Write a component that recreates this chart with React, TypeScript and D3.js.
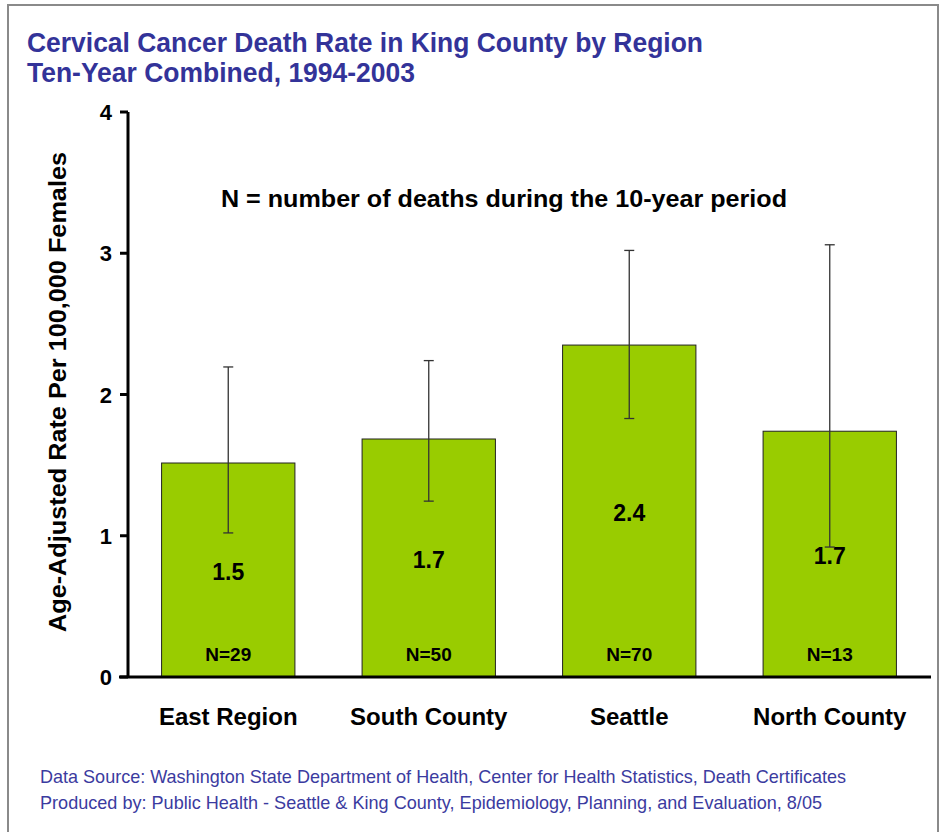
import React from "react";
import * as d3 from "d3";

const categories = ["East Region", "South County", "Seattle", "North County"];
const rates = [1.515, 1.685, 2.35, 1.74];
const rateLabels = ["1.5", "1.7", "2.4", "1.7"];
const ciLow = [1.02, 1.245, 1.83, 0.92];
const ciHigh = [2.195, 2.24, 3.02, 3.06];
const deaths = [29, 50, 70, 13];
const yTicks = [0, 1, 2, 3, 4];

const W = 939;
const H = 832;
const left = 128;
const right = 930;
const top = 112;
const bottom = 677;

export default function App() {
  const x = d3.scaleBand<string>().domain(categories).range([left, right]).padding(0);
  const y = d3.scaleLinear().domain([0, 4]).range([bottom, top]);
  const barW = x.bandwidth() * 0.665;
  const navy = "#333399";
  const sans = "'Liberation Sans', Arial, sans-serif";
  return (
    <svg width={W} height={H} style={{ position: "absolute", left: 0, top: 0, background: "#fff" }}>
      <rect x={8} y={5} width={930} height={H + 10} fill="#fff" stroke="#8a8a8a" strokeWidth={2} />
      <text x={27} y={52} fontFamily={sans} fontWeight="bold" fontSize={28} fill={navy} textLength={676} lengthAdjust="spacingAndGlyphs">
        Cervical Cancer Death Rate in King County by Region
      </text>
      <text x={27} y={82} fontFamily={sans} fontWeight="bold" fontSize={28} fill={navy} textLength={388} lengthAdjust="spacingAndGlyphs">
        Ten-Year Combined, 1994-2003
      </text>

      <text
        transform={`translate(66,392) rotate(-90)`}
        textAnchor="middle"
        fontFamily={sans}
        fontWeight="bold"
        fontSize={24}
        fill="#000"
        textLength={480}
        lengthAdjust="spacingAndGlyphs"
      >
        Age-Adjusted Rate Per 100,000 Females
      </text>

      <text x={504} y={207} textAnchor="middle" fontFamily={sans} fontWeight="bold" fontSize={24} fill="#000" textLength={566} lengthAdjust="spacingAndGlyphs">
        N = number of deaths during the 10-year period
      </text>

      {categories.map((c, i) => {
        const cx = (x(c) as number) + x.bandwidth() / 2;
        const yt = y(rates[i]);
        return (
          <g key={c}>
            <rect x={cx - barW / 2} y={yt} width={barW} height={bottom - yt} fill="#99CC00" stroke="#222" strokeWidth={1} />
            <text x={cx} y={(yt + bottom) / 2 + 10} textAnchor="middle" fontFamily={sans} fontWeight="bold" fontSize={23} fill="#000">
              {rateLabels[i]}
            </text>
            <text x={cx} y={661} textAnchor="middle" fontFamily={sans} fontWeight="bold" fontSize={19} fill="#000">
              {`N=${deaths[i]}`}
            </text>
            <line x1={cx} x2={cx} y1={y(ciLow[i])} y2={y(ciHigh[i])} stroke="#333" strokeWidth={1.3} />
            <line x1={cx - 5} x2={cx + 5} y1={y(ciLow[i])} y2={y(ciLow[i])} stroke="#333" strokeWidth={1.3} />
            <line x1={cx - 5} x2={cx + 5} y1={y(ciHigh[i])} y2={y(ciHigh[i])} stroke="#333" strokeWidth={1.3} />
            <text x={cx} y={725} textAnchor="middle" fontFamily={sans} fontWeight="bold" fontSize={24} fill="#000">
              {c}
            </text>
          </g>
        );
      })}

      <line x1={left} x2={left} y1={top} y2={bottom} stroke="#000" strokeWidth={3} />
      {yTicks.map((t) => (
        <g key={t}>
          <line x1={left - 8} x2={left} y1={y(t)} y2={y(t)} stroke="#000" strokeWidth={3} />
          <text x={112} y={y(t) + 8} textAnchor="end" fontFamily={sans} fontWeight="bold" fontSize={22} fill="#000">
            {t}
          </text>
        </g>
      ))}
      <line x1={left - 9} x2={right + 1} y1={bottom} y2={bottom} stroke="#000" strokeWidth={3} />

      <text x={40} y={783} fontFamily={sans} fontSize={19} fill="#3b3ba0" textLength={806} lengthAdjust="spacingAndGlyphs">
        Data Source: Washington State Department of Health, Center for Health Statistics, Death Certificates
      </text>
      <text x={40} y={809} fontFamily={sans} fontSize={19} fill="#3b3ba0" textLength={782} lengthAdjust="spacingAndGlyphs">
        Produced by: Public Health - Seattle &amp; King County, Epidemiology, Planning, and Evaluation, 8/05
      </text>
    </svg>
  );
}
